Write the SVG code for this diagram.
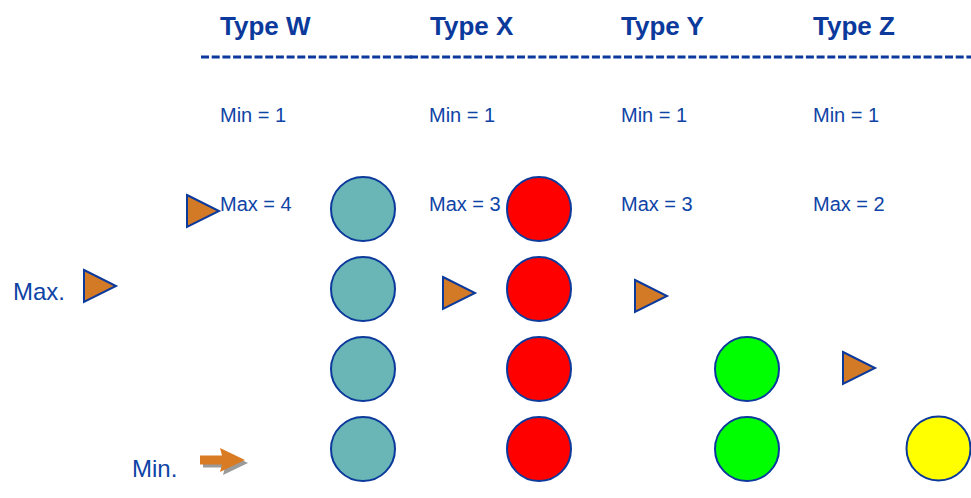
<svg xmlns="http://www.w3.org/2000/svg" width="971" height="498" viewBox="0 0 971 498">
  <defs>
    <style>
      .head { font-family: "Liberation Sans", Arial, sans-serif; font-weight: bold; font-size: 26px; fill: #0B3A9C; }
      .lbl { font-family: "Liberation Sans", Arial, sans-serif; font-size: 20px; fill: #0E44A6; }
      .side { font-family: "Liberation Sans", Arial, sans-serif; font-size: 24px; fill: #0E44A6; }
      .rule { stroke: #0B3A9C; stroke-width: 3; stroke-dasharray: 8 2.7; fill: none; }
      .ball { stroke: #0B3A9C; stroke-width: 2; }
      .teal { fill: #6AB5B6; }
      .red { fill: #FF0000; }
      .green { fill: #00FF00; }
      .yellow { fill: #FFFF00; }
      .tri { fill: #D37A26; stroke: #0B3A9C; stroke-width: 2; stroke-linejoin: miter; }
    </style>
    <polygon id="marker-tri" class="tri" points="0,0 32,16 0,32"/>
    <polygon id="arrow-shape" points="0,-4.5 22,-4.5 20,-12 45,0 20,12 22,4.5 0,4.5"/>
  </defs>

  <!-- column headings -->
  <g id="headings">
    <text class="head" x="220" y="35">Type W</text>
    <text class="head" x="430" y="35">Type X</text>
    <text class="head" x="621" y="35">Type Y</text>
    <text class="head" x="813" y="35">Type Z</text>
  </g>

  <!-- dashed rule under the headings -->
  <g id="rules">
    <line class="rule" x1="201" y1="57" x2="414" y2="57"/>
    <line class="rule" x1="410" y1="57" x2="971" y2="57"/>
  </g>

  <!-- limits per type -->
  <g id="limits">
    <text class="lbl" x="220" y="122">Min = 1</text>
    <text class="lbl" x="429" y="122">Min = 1</text>
    <text class="lbl" x="621" y="122">Min = 1</text>
    <text class="lbl" x="813" y="122">Min = 1</text>
    <text class="lbl" x="220" y="211">Max = 4</text>
    <text class="lbl" x="429" y="211">Max = 3</text>
    <text class="lbl" x="621" y="211">Max = 3</text>
    <text class="lbl" x="813" y="211">Max = 2</text>
  </g>

  <!-- side labels -->
  <g id="side-labels">
    <text class="side" x="13" y="300">Max.</text>
    <text class="side" x="132" y="477">Min.</text>
  </g>

  <!-- type W column -->
  <g id="col-w">
    <circle class="ball teal" cx="363" cy="209" r="32"/>
    <circle class="ball teal" cx="363" cy="289" r="32"/>
    <circle class="ball teal" cx="363" cy="369" r="32"/>
    <circle class="ball teal" cx="363" cy="449" r="32"/>
  </g>

  <!-- type X column -->
  <g id="col-x">
    <circle class="ball red" cx="539" cy="209" r="32"/>
    <circle class="ball red" cx="539" cy="289" r="32"/>
    <circle class="ball red" cx="539" cy="369" r="32"/>
    <circle class="ball red" cx="539" cy="449" r="32"/>
  </g>

  <!-- type Y column -->
  <g id="col-y">
    <circle class="ball green" cx="747" cy="369" r="32"/>
    <circle class="ball green" cx="747" cy="449" r="32"/>
  </g>

  <!-- type Z column -->
  <g id="col-z">
    <circle class="ball yellow" cx="938.5" cy="448.5" r="32"/>
  </g>

  <!-- level markers -->
  <g id="markers">
    <use href="#marker-tri" x="187" y="195"/>
    <use href="#marker-tri" x="84" y="270"/>
    <use href="#marker-tri" x="443" y="277"/>
    <use href="#marker-tri" x="635" y="280"/>
    <use href="#marker-tri" x="843" y="352"/>
  </g>

  <!-- minimum arrow with drop shadow -->
  <g id="min-arrow">
    <use href="#arrow-shape" x="203" y="463" fill="#9A9A9A"/>
    <use href="#arrow-shape" x="200" y="460" fill="#D97B22"/>
  </g>
</svg>
